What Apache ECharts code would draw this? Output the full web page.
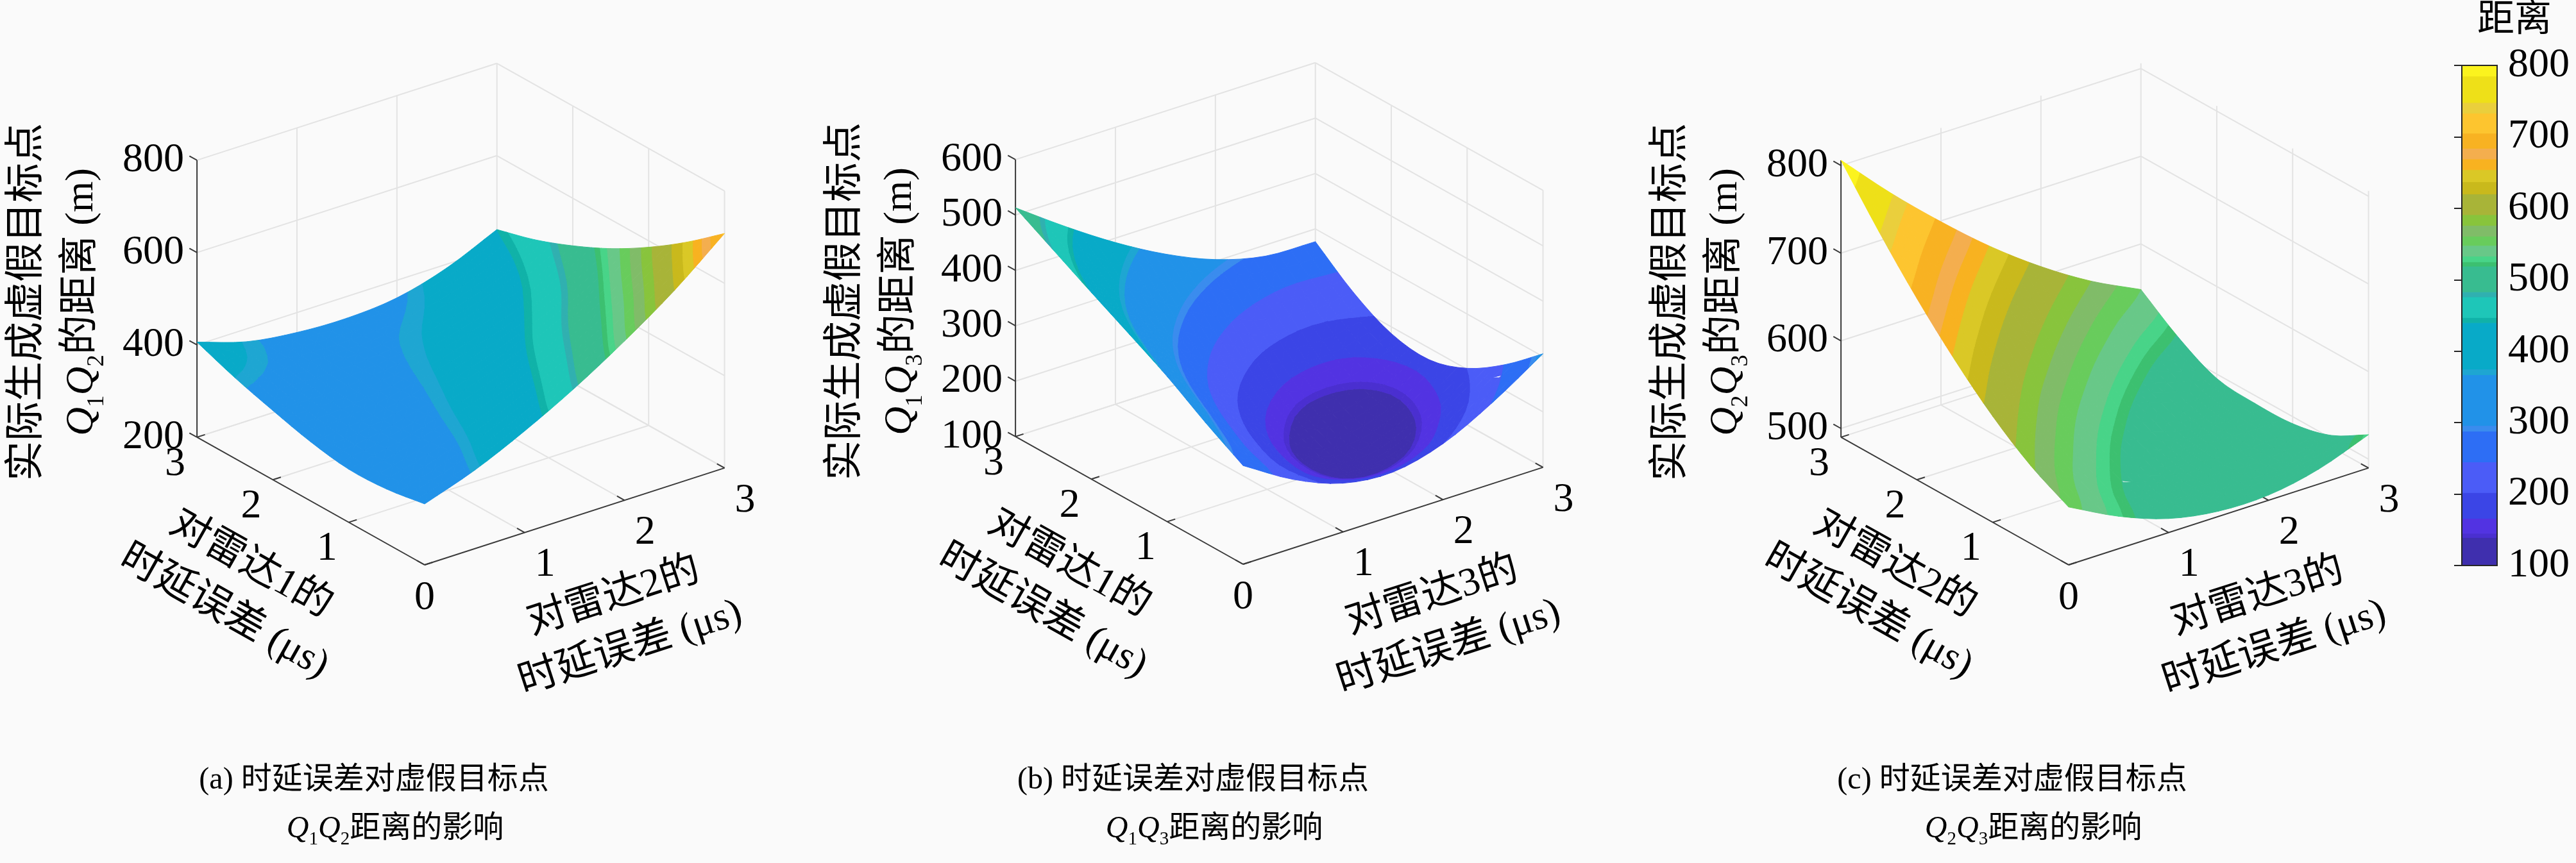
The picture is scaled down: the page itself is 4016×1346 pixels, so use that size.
<!doctype html>
<html>
<head>
<meta charset="UTF-8">
<title>时延误差对虚假目标点距离的影响</title>
<script src="https://cdn.jsdelivr.net/npm/echarts@6/dist/echarts.min.js"></script>
<style>
    html, body { margin: 0; padding: 0; background: #fafafa; }
    #main { width: 4016px; height: 1346px; }
</style>
</head>
<body>
<div id="main"></div>
<script>
    // 时延误差网格 (μs)，步长 0.5
    var delaySteps = [0, 0.5, 1, 1.5, 2, 2.5, 3];
    var delayTicks = [0, 1, 2, 3];

    // Q1Q2 距离 (m)：行 = 雷达1时延误差，列 = 雷达2时延误差
    var distQ1Q2 = [
        [332, 370, 420, 478, 545, 620, 708],
        [318, 350, 392, 442, 500, 565, 643],
        [315, 340, 373, 413, 462, 518, 586],
        [328, 338, 360, 390, 428, 475, 537],
        [350, 348, 356, 374, 402, 440, 497],
        [375, 362, 358, 363, 380, 412, 464],
        [406, 372, 357, 353, 362, 392, 440]
    ];
    // Q1Q3 距离 (m)：行 = 雷达1，列 = 雷达3
    var distQ1Q3 = [
        [278, 224, 188, 179, 201, 247, 305],
        [318, 233, 167, 131, 140, 186, 247],
        [362, 262, 179, 118, 103, 141, 202],
        [400, 300, 215, 150, 115, 130, 179],
        [437, 346, 268, 206, 166, 160, 188],
        [475, 397, 329, 272, 232, 215, 224],
        [513, 450, 392, 342, 303, 280, 277]
    ];
    // Q2Q3 距离 (m)：行 = 雷达2，列 = 雷达3
    var distQ2Q3 = [
        [556, 527, 506, 496, 496, 507, 528],
        [579, 543, 515, 496, 491, 492, 503],
        [611, 570, 535, 508, 493, 490, 492],
        [651, 605, 564, 531, 506, 493, 491],
        [697, 648, 603, 564, 532, 509, 495],
        [749, 696, 648, 605, 568, 538, 517],
        [806, 750, 699, 652, 611, 576, 548]
    ];

    var zTicksA = [200, 400, 600, 800];
    var zTicksB = [100, 200, 300, 400, 500, 600];
    var zTicksC = [500, 600, 700, 800];
    var zRangeA = [200, 800];
    var zRangeB = [100, 600];
    var zRangeC = [490, 806];

    var colorbarTicks = [100, 200, 300, 400, 500, 600, 700, 800];
    // 色标分段
    var colorLevels = [100, 139, 145, 166, 202, 245, 288, 296, 367, 375, 440, 447, 476, 483, 519, 525, 533,
        548, 561, 576, 591, 620, 637, 654, 669, 684, 705, 733, 748, 785, 800];
    var levelColors = ['#3f2fae', '#4a2fd0', '#5233e2', '#3b45e6', '#4b5cf7', '#2d6ef5', '#3a8cee', '#2192e8',
        '#1ea6d2', '#08aac8', '#10b2a8', '#1ec6b8', '#30b0b0', '#38bc90', '#3cc070', '#48d488', '#68c888',
        '#68cc5c', '#80bc68', '#88c43c', '#a8b438', '#c9b91c', '#dac826', '#f8b220', '#f4ae4e', '#f8b222',
        '#fdc52f', '#eacf3c', '#eee018', '#fbf31e'];

    var FONT = "'Liberation Serif', 'Noto Sans CJK SC', serif";
    var AZ = 37.2 * Math.PI / 180, EL = 25.2 * Math.PI / 180;
    var BOX_H = 0.8134, BOX_PX = 587, SUB = 4;

    var panels = [
        {dist: distQ1Q2, zTicks: zTicksA, zRange: zRangeA, origin: [662, 881], uName: '对雷达1的', sName: '对雷达2的', qa: '1', qb: '2', tag: '(a)', capX: 583},
        {dist: distQ1Q3, zTicks: zTicksB, zRange: zRangeB, origin: [1938, 880], uName: '对雷达1的', sName: '对雷达3的', qa: '1', qb: '3', tag: '(b)', capX: 1860},
        {dist: distQ2Q3, zTicks: zTicksC, zRange: zRangeC, origin: [3225, 881], uName: '对雷达2的', sName: '对雷达3的', qa: '2', qb: '3', tag: '(c)', capX: 3137}
    ];

    function proj(u, s, n) {
        var X = s / 3, Y = u / 3, Z = n * BOX_H;
        return [Math.cos(AZ) * X - Math.sin(AZ) * Y,
            Math.sin(EL) * (Math.sin(AZ) * X + Math.cos(AZ) * Y) + Math.cos(EL) * Z];
    }
    function depthOf(u, s, n) {
        var X = s / 3, Y = u / 3, Z = n * BOX_H;
        return Math.cos(EL) * (Math.sin(AZ) * X + Math.cos(AZ) * Y) - Math.sin(EL) * Z;
    }
    function zn(p, z) {
        return (z - p.zRange[0]) / (p.zRange[1] - p.zRange[0]);
    }
    // 网格外补一圈，供平滑着色使用
    function padGrid(dist) {
        var n = dist.length, out = [];
        for (var i = -1; i <= n; i++) {
            var row = [];
            for (var j = -1; j <= n; j++) {
                var ii = Math.max(0, Math.min(n - 1, i)), jj = Math.max(0, Math.min(n - 1, j));
                var ii2 = i < 0 ? 1 : (i >= n ? n - 2 : ii), jj2 = j < 0 ? 1 : (j >= n ? n - 2 : jj);
                var v = dist[ii][jj];
                if (i < 0 || i >= n) v = 2 * v - dist[ii2][jj];
                if (j < 0 || j >= n) v += dist[ii][jj] - dist[ii][jj2] + (i < 0 || i >= n ? dist[ii][jj] - dist[ii2][jj] - (dist[ii][jj2] - dist[ii2][jj2]) : 0);
                row.push(v);
            }
            out.push(row);
        }
        return out;
    }
    function cr(p0, p1, p2, p3, t) {
        return 0.5 * (2 * p1 + (p2 - p0) * t + (2 * p0 - 5 * p1 + 4 * p2 - p3) * t * t +
            (3 * p1 - p0 - 3 * p2 + p3) * t * t * t);
    }
    function surfValue(p, u, s) {
        var step = delaySteps[1] - delaySteps[0];
        var last = delaySteps.length - 2;
        var i = Math.min(Math.floor(u / step), last), j = Math.min(Math.floor(s / step), last);
        var fu = u / step - i, fs = s / step - j;
        var g = p.pad, col = [];
        for (var r = 0; r < 4; r++) {
            var row = g[i + r];
            col.push(cr(row[j], row[j + 1], row[j + 2], row[j + 3], fs));
        }
        return cr(col[0], col[1], col[2], col[3], fu);
    }
    // 按色带裁剪多边形
    function clipRange(poly, v, keepAbove) {
        var out = [];
        for (var k = 0; k < poly.length; k++) {
            var a = poly[k], b = poly[(k + 1) % poly.length];
            var ina = keepAbove ? a[2] >= v : a[2] <= v;
            var inb = keepAbove ? b[2] >= v : b[2] <= v;
            if (ina) out.push(a);
            if (ina !== inb) {
                var t = (v - a[2]) / (b[2] - a[2]);
                out.push([a[0] + t * (b[0] - a[0]), a[1] + t * (b[1] - a[1]), v]);
            }
        }
        return out;
    }
    function richStyle(size, lh) {
        return {
            q: {fontFamily: 'Liberation Serif', fontStyle: 'italic', fontSize: size, lineHeight: lh, fill: '#000'},
            n: {fontFamily: 'Liberation Serif', fontSize: Math.round(size * 0.6), lineHeight: Math.round(size * 0.62),
                verticalAlign: 'bottom', fill: '#000'}
        };
    }

    function frameSegments(p) {
        var segs = [];
        delayTicks.forEach(function (t) {
            if (t > 0) {
                segs.push([t, 0, 0, t, 3, 0, 0]);
                segs.push([0, t, 0, 3, t, 0, 0]);
                segs.push([3, t, 0, 3, t, 1, 0]);
            }
            if (t < 3) segs.push([t, 3, 0, t, 3, 1, 0]);
        });
        p.zTicks.forEach(function (t) {
            var n = zn(p, t);
            segs.push([3, 0, n, 3, 3, n, 0]);
            segs.push([0, 3, n, 3, 3, n, 0]);
        });
        segs.push([3, 0, 0, 0, 0, 0, 1]);
        segs.push([0, 0, 0, 0, 3, 0, 1]);
        segs.push([3, 0, 0, 3, 0, 1, 1]);
        delayTicks.forEach(function (t) {
            segs.push([t, 0, 0, t, 0.08, 0, 1]);
            segs.push([0, t, 0, 0.1, t, 0, 1]);
        });
        p.zTicks.forEach(function (t) {
            var n = zn(p, t);
            segs.push([3, 0, n, 3.1, 0, n, 1]);
        });
        return segs;
    }

    function surfaceTriangles(p) {
        var tris = [];
        var h = (delaySteps[1] - delaySteps[0]) / SUB;
        var cnt = (delaySteps.length - 1) * SUB;
        for (var a = 0; a < cnt; a++) {
            for (var b = 0; b < cnt; b++) {
                var u0 = a * h, u1 = (a + 1) * h, s0 = b * h, s1 = (b + 1) * h;
                tris.push([u0, s0, u1, s0, u1, s1]);
                tris.push([u0, s0, u1, s1, u0, s1]);
            }
        }
        tris.forEach(function (t) {
            var uc = (t[0] + t[2] + t[4]) / 3, sc = (t[1] + t[3] + t[5]) / 3;
            var zc = (surfValue(p, t[0], t[1]) + surfValue(p, t[2], t[3]) + surfValue(p, t[4], t[5])) / 3;
            t.push(depthOf(uc, sc, zn(p, zc)));
        });
        tris.sort(function (x, y) { return y[6] - x[6]; });
        return tris;
    }

    function labelSpecs(p) {
        var specs = [];
        p.zTicks.forEach(function (t) {
            specs.push({u: 3, s: 0, n: zn(p, t), dx: -20, dy: 0, text: String(t), size: 64, align: 'right'});
        });
        delayTicks.forEach(function (t) {
            if (t === 0) {
                specs.push({u: 0, s: 0, n: 0, dx: 0, dy: 52, text: '0', size: 64, align: 'center'});
            } else {
                specs.push({u: t, s: 0, n: 0, dx: -34, dy: 42, text: String(t), size: 64, align: 'center'});
                specs.push({u: 0, s: t, n: 0, dx: 32, dy: 51, text: String(t), size: 64, align: 'center'});
            }
        });
        specs.push({u: 0, s: 0, n: 0, dx: -292, dy: 37, rot: -0.512, size: 62, align: 'center',
            text: p.uName + '\n时延误差 (μs)'});
        specs.push({u: 0, s: 0, n: 0, dx: 308, dy: 90, rot: 0.313, size: 62, align: 'center',
            text: p.sName + '\n时延误差 (μs)'});
        specs.push({u: 3, s: 0, n: 0.5, dx: -221, dy: 5, rot: Math.PI / 2, size: 62, align: 'center',
            text: '实际生成虚假目标点\n{q|Q}{n|' + p.qa + '}{q|Q}{n|' + p.qb + '}的距离 (m)'});
        return specs;
    }

    var myChart = echarts.init(document.getElementById('main'));

    var grids = [], xAxes = [], yAxes = [], series = [], graphics = [];

    panels.forEach(function (p, i) {
        p.pad = padGrid(p.dist);
        grids.push({left: p.origin[0] - BOX_PX, top: p.origin[1] - 1.25 * BOX_PX, width: 2 * BOX_PX, height: 1.5 * BOX_PX});
        xAxes.push({gridIndex: i, type: 'value', min: -1, max: 1, show: false});
        yAxes.push({gridIndex: i, type: 'value', min: -0.25, max: 1.25, show: false});

        // 坐标框、网格线、刻度
        series.push({
            type: 'custom', coordinateSystem: 'cartesian2d', xAxisIndex: i, yAxisIndex: i,
            clip: false, silent: true, z: 1, progressive: 0,
            data: frameSegments(p),
            renderItem: function (params, api) {
                var a = api.coord(proj(api.value(0), api.value(1), api.value(2)));
                var b = api.coord(proj(api.value(3), api.value(4), api.value(5)));
                var isAxis = api.value(6) === 1;
                return {
                    type: 'line',
                    shape: {x1: a[0], y1: a[1], x2: b[0], y2: b[1]},
                    style: {stroke: isAxis ? '#3a3a3a' : '#e3e3e3', lineWidth: 2}
                };
            }
        });

        // 曲面
        series.push({
            type: 'custom', coordinateSystem: 'cartesian2d', xAxisIndex: i, yAxisIndex: i,
            clip: false, silent: true, z: 2, progressive: 0,
            data: surfaceTriangles(p),
            renderItem: function (params, api) {
                var verts = [[api.value(0), api.value(1)], [api.value(2), api.value(3)], [api.value(4), api.value(5)]]
                    .map(function (v) { return [v[0], v[1], surfValue(p, v[0], v[1])]; });
                var zs = verts.map(function (v) { return v[2]; });
                var lo = Math.min.apply(null, zs), hi = Math.max.apply(null, zs);
                var children = [];
                for (var k = 0; k < levelColors.length; k++) {
                    var bLo = k === 0 ? -Infinity : colorLevels[k];
                    var bHi = k === levelColors.length - 1 ? Infinity : colorLevels[k + 1];
                    if (bHi < lo || bLo > hi) continue;
                    var poly = verts;
                    if (bLo > lo) poly = clipRange(poly, bLo, true);
                    if (poly.length >= 3 && bHi < hi) poly = clipRange(poly, bHi, false);
                    if (poly.length < 3) continue;
                    var pts = poly.map(function (v) { return api.coord(proj(v[0], v[1], zn(p, v[2]))); });
                    children.push({
                        type: 'polygon', shape: {points: pts},
                        style: {fill: levelColors[k], stroke: levelColors[k], lineWidth: 1}
                    });
                }
                return {type: 'group', children: children};
            }
        });

        // 刻度标签与轴标题
        var specs = labelSpecs(p);
        series.push({
            type: 'custom', coordinateSystem: 'cartesian2d', xAxisIndex: i, yAxisIndex: i,
            clip: false, silent: true, z: 3, progressive: 0,
            data: specs.map(function (sp) { return [sp.u, sp.s, sp.n]; }),
            renderItem: function (params, api) {
                var sp = specs[params.dataIndex];
                var c = api.coord(proj(api.value(0), api.value(1), api.value(2)));
                return {
                    type: 'text',
                    x: c[0] + sp.dx, y: c[1] + sp.dy,
                    rotation: sp.rot || 0,
                    style: {
                        text: sp.text, fill: '#000', fontSize: sp.size, fontFamily: FONT,
                        align: sp.align, verticalAlign: 'middle', lineHeight: 84,
                        rich: richStyle(sp.size, 84)
                    }
                };
            }
        });

        graphics.push({
            type: 'text', x: p.capX, y: 1217,
            style: {text: p.tag + ' 时延误差对虚假目标点', fill: '#000', fontSize: 48, fontFamily: FONT,
                align: 'center', verticalAlign: 'middle', textAlign: 'center', textVerticalAlign: 'middle'}
        });
        graphics.push({
            type: 'text', x: p.capX + 33, y: 1293,
            style: {text: '{q|Q}{n|' + p.qa + '}{q|Q}{n|' + p.qb + '}距离的影响', fill: '#000', fontSize: 48,
                fontFamily: FONT, lineHeight: 62, rich: richStyle(48, 62),
                align: 'center', verticalAlign: 'middle', textAlign: 'center', textVerticalAlign: 'middle'}
        });
    });

    // 色标
    grids.push({left: 3838, top: 102, width: 55, height: 780});
    xAxes.push({gridIndex: 3, type: 'value', min: 0, max: 1, show: false});
    yAxes.push({
        gridIndex: 3, type: 'value', min: colorbarTicks[0], max: colorbarTicks[colorbarTicks.length - 1],
        interval: 100, position: 'right', z: 10,
        axisLine: {show: false},
        axisTick: {show: true, inside: true, length: 12, lineStyle: {color: '#262626', width: 2}},
        axisLabel: {fontSize: 64, fontFamily: 'Liberation Serif', color: '#000', margin: 17},
        splitLine: {show: false}
    });
    series.push({
        type: 'custom', coordinateSystem: 'cartesian2d', xAxisIndex: 3, yAxisIndex: 3,
        silent: true, z: 2, progressive: 0,
        data: levelColors.map(function (c, k) { return [colorLevels[k], colorLevels[k + 1]]; }),
        renderItem: function (params, api) {
            var p0 = api.coord([0, api.value(0)]), p1 = api.coord([1, api.value(1)]);
            var col = levelColors[params.dataIndex];
            return {
                type: 'rect',
                shape: {x: p0[0], y: p1[1], width: p1[0] - p0[0], height: p0[1] - p1[1]},
                style: {fill: col, stroke: col, lineWidth: 1}
            };
        }
    });
    series.push({
        type: 'custom', coordinateSystem: 'cartesian2d', xAxisIndex: 3, yAxisIndex: 3,
        silent: true, z: 4, progressive: 0,
        data: [[colorbarTicks[0], colorbarTicks[colorbarTicks.length - 1]]],
        renderItem: function (params, api) {
            var p0 = api.coord([0, api.value(0)]), p1 = api.coord([1, api.value(1)]);
            return {
                type: 'rect',
                shape: {x: p0[0], y: p1[1], width: p1[0] - p0[0], height: p0[1] - p1[1]},
                style: {fill: 'none', stroke: '#262626', lineWidth: 2}
            };
        }
    });
    graphics.push({
        type: 'text', x: 3920, y: 33,
        style: {text: '距离', fill: '#000', fontSize: 58, fontFamily: FONT,
            align: 'center', verticalAlign: 'middle', textAlign: 'center', textVerticalAlign: 'middle'}
    });

    var option = {
        backgroundColor: '#fafafa',
        animation: false,
        grid: grids,
        xAxis: xAxes,
        yAxis: yAxes,
        graphic: graphics,
        series: series
    };

    myChart.setOption(option);
</script>
</body>
</html>
